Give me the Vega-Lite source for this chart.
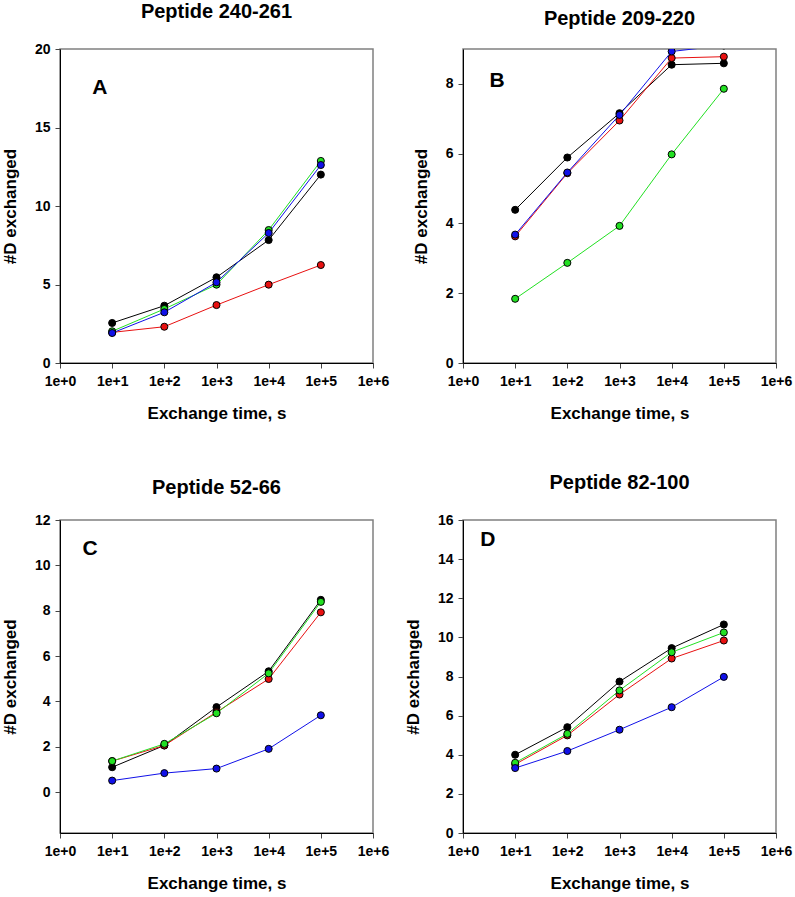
{
  "$schema": "https://vega.github.io/schema/vega-lite/v6.json",
  "background": "white",
  "padding": {"left": 0, "top": 1, "right": 5, "bottom": 5},
  "datasets": {
    "hdx": [
      {"panel": "A", "series": "s1", "t": 10, "d": 2.55},
      {"panel": "A", "series": "s1", "t": 100, "d": 3.65},
      {"panel": "A", "series": "s1", "t": 1000, "d": 5.46},
      {"panel": "A", "series": "s1", "t": 10000, "d": 7.83},
      {"panel": "A", "series": "s1", "t": 100000, "d": 12.0},
      {"panel": "A", "series": "s2", "t": 10, "d": 1.95},
      {"panel": "A", "series": "s2", "t": 100, "d": 2.31},
      {"panel": "A", "series": "s2", "t": 1000, "d": 3.69},
      {"panel": "A", "series": "s2", "t": 10000, "d": 4.99},
      {"panel": "A", "series": "s2", "t": 100000, "d": 6.24},
      {"panel": "A", "series": "s3", "t": 10, "d": 2.02},
      {"panel": "A", "series": "s3", "t": 100, "d": 3.44},
      {"panel": "A", "series": "s3", "t": 1000, "d": 4.99},
      {"panel": "A", "series": "s3", "t": 10000, "d": 8.47},
      {"panel": "A", "series": "s3", "t": 100000, "d": 12.87},
      {"panel": "A", "series": "s4", "t": 10, "d": 1.91},
      {"panel": "A", "series": "s4", "t": 100, "d": 3.23},
      {"panel": "A", "series": "s4", "t": 1000, "d": 5.14},
      {"panel": "A", "series": "s4", "t": 10000, "d": 8.28},
      {"panel": "A", "series": "s4", "t": 100000, "d": 12.61},

      {"panel": "B", "series": "s1", "t": 10, "d": 4.39},
      {"panel": "B", "series": "s1", "t": 100, "d": 5.89},
      {"panel": "B", "series": "s1", "t": 1000, "d": 7.16},
      {"panel": "B", "series": "s1", "t": 10000, "d": 8.55},
      {"panel": "B", "series": "s1", "t": 100000, "d": 8.59},
      {"panel": "B", "series": "s2", "t": 10, "d": 3.63},
      {"panel": "B", "series": "s2", "t": 100, "d": 5.44},
      {"panel": "B", "series": "s2", "t": 1000, "d": 6.95},
      {"panel": "B", "series": "s2", "t": 10000, "d": 8.74},
      {"panel": "B", "series": "s2", "t": 100000, "d": 8.78},
      {"panel": "B", "series": "s3", "t": 10, "d": 1.84},
      {"panel": "B", "series": "s3", "t": 100, "d": 2.87},
      {"panel": "B", "series": "s3", "t": 1000, "d": 3.93},
      {"panel": "B", "series": "s3", "t": 10000, "d": 5.98},
      {"panel": "B", "series": "s3", "t": 100000, "d": 7.86},
      {"panel": "B", "series": "s4", "t": 10, "d": 3.68},
      {"panel": "B", "series": "s4", "t": 100, "d": 5.46},
      {"panel": "B", "series": "s4", "t": 1000, "d": 7.11},
      {"panel": "B", "series": "s4", "t": 10000, "d": 8.93},
      {"panel": "B", "series": "s4", "t": 100000, "d": 9.1},

      {"panel": "C", "series": "s1", "t": 10, "d": 1.1},
      {"panel": "C", "series": "s1", "t": 100, "d": 2.06},
      {"panel": "C", "series": "s1", "t": 1000, "d": 3.75},
      {"panel": "C", "series": "s1", "t": 10000, "d": 5.33},
      {"panel": "C", "series": "s1", "t": 100000, "d": 8.48},
      {"panel": "C", "series": "s2", "t": 10, "d": 1.37},
      {"panel": "C", "series": "s2", "t": 100, "d": 2.06},
      {"panel": "C", "series": "s2", "t": 1000, "d": 3.53},
      {"panel": "C", "series": "s2", "t": 10000, "d": 4.99},
      {"panel": "C", "series": "s2", "t": 100000, "d": 7.93},
      {"panel": "C", "series": "s3", "t": 10, "d": 1.37},
      {"panel": "C", "series": "s3", "t": 100, "d": 2.13},
      {"panel": "C", "series": "s3", "t": 1000, "d": 3.48},
      {"panel": "C", "series": "s3", "t": 10000, "d": 5.24},
      {"panel": "C", "series": "s3", "t": 100000, "d": 8.39},
      {"panel": "C", "series": "s4", "t": 10, "d": 0.51},
      {"panel": "C", "series": "s4", "t": 100, "d": 0.84},
      {"panel": "C", "series": "s4", "t": 1000, "d": 1.04},
      {"panel": "C", "series": "s4", "t": 10000, "d": 1.91},
      {"panel": "C", "series": "s4", "t": 100000, "d": 3.39},

      {"panel": "D", "series": "s1", "t": 10, "d": 4.0},
      {"panel": "D", "series": "s1", "t": 100, "d": 5.41},
      {"panel": "D", "series": "s1", "t": 1000, "d": 7.74},
      {"panel": "D", "series": "s1", "t": 10000, "d": 9.45},
      {"panel": "D", "series": "s1", "t": 100000, "d": 10.66},
      {"panel": "D", "series": "s2", "t": 10, "d": 3.51},
      {"panel": "D", "series": "s2", "t": 100, "d": 4.99},
      {"panel": "D", "series": "s2", "t": 1000, "d": 7.08},
      {"panel": "D", "series": "s2", "t": 10000, "d": 8.92},
      {"panel": "D", "series": "s2", "t": 100000, "d": 9.84},
      {"panel": "D", "series": "s3", "t": 10, "d": 3.59},
      {"panel": "D", "series": "s3", "t": 100, "d": 5.07},
      {"panel": "D", "series": "s3", "t": 1000, "d": 7.29},
      {"panel": "D", "series": "s3", "t": 10000, "d": 9.24},
      {"panel": "D", "series": "s3", "t": 100000, "d": 10.25},
      {"panel": "D", "series": "s4", "t": 10, "d": 3.32},
      {"panel": "D", "series": "s4", "t": 100, "d": 4.19},
      {"panel": "D", "series": "s4", "t": 1000, "d": 5.28},
      {"panel": "D", "series": "s4", "t": 10000, "d": 6.43},
      {"panel": "D", "series": "s4", "t": 100000, "d": 7.98}
    ]
  },
  "config": {
    "font": "Liberation Sans",
    "view": {"stroke": "#808080", "strokeWidth": 1.5},
    "title": {"font": "Liberation Sans", "fontSize": 20, "fontWeight": "bold", "color": "black", "anchor": "middle"},
    "axis": {
      "labelFont": "Liberation Sans", "labelFontSize": 14, "labelFontWeight": "bold", "labelColor": "black",
      "titleFont": "Liberation Sans", "titleFontSize": 17, "titleFontWeight": "bold", "titleColor": "black",
      "domainColor": "black", "domainWidth": 1, "tickColor": "#444444", "tickSize": 5, "tickWidth": 1,
      "grid": false, "labelPadding": 5, "titlePadding": 15, "zindex": 1,
      "labelFlush": false, "labelOverlap": false, "labelBound": false
    },
    "axisX": {"labelPadding": 6, "titlePadding": 17}
  },
  "columns": 2,
  "bounds": "flush",
  "spacing": {"row": 157, "column": 90},
  "concat": [
    {
      "title": {"text": "Peptide 240-261", "offset": 20},
      "width": 313, "height": 314,
      "layer": [
        {"data": {"name": "hdx"},
         "transform": [{"filter": "datum.panel === 'A'"}],
         "mark": {"type": "line", "strokeWidth": 1, "clip": true},
         "encoding": {
           "x": {"field": "t", "type": "quantitative", "scale": {"type": "log", "domain": [1, 1000000]},
                 "axis": {"values": [1, 10, 100, 1000, 10000, 100000, 1000000], "labelExpr": "'1e+' + round(log(datum.value) / LN10)", "title": "Exchange time, s"}},
           "y": {"field": "d", "type": "quantitative", "scale": {"domain": [0, 20], "nice": false, "zero": false},
                 "axis": {"values": [0, 5, 10, 15, 20], "title": "#D exchanged"}},
           "color": {"field": "series", "type": "nominal", "legend": null,
             "scale": {"domain": ["s1", "s2", "s3", "s4"], "range": ["#000000", "#e81010", "#22e022", "#1010e8"]}}}},
        {"data": {"name": "hdx"},
         "transform": [{"filter": "datum.panel === 'A'"}],
         "mark": {"type": "point", "shape": "circle", "filled": true, "size": 50, "stroke": "black", "strokeWidth": 1, "opacity": 1, "clip": true},
         "encoding": {
           "x": {"field": "t", "type": "quantitative", "scale": {"type": "log", "domain": [1, 1000000]},
                 "axis": {"values": [1, 10, 100, 1000, 10000, 100000, 1000000], "labelExpr": "'1e+' + round(log(datum.value) / LN10)", "title": "Exchange time, s"}},
           "y": {"field": "d", "type": "quantitative", "scale": {"domain": [0, 20], "nice": false, "zero": false},
                 "axis": {"values": [0, 5, 10, 15, 20], "title": "#D exchanged"}},
           "fill": {"field": "series", "type": "nominal", "legend": null,
             "scale": {"domain": ["s1", "s2", "s3", "s4"], "range": ["#000000", "#e81010", "#22e022", "#1010e8"]}}}},
        {"data": {"values": [{"label": "A"}]},
         "mark": {"type": "text", "fontSize": 21, "fontWeight": "bold", "align": "center", "baseline": "middle", "color": "black"},
         "encoding": {
           "x": {"datum": 5.8, "type": "quantitative", "axis": {"values": [1, 10, 100, 1000, 10000, 100000, 1000000], "labelExpr": "'1e+' + round(log(datum.value) / LN10)", "title": "Exchange time, s"}},
           "y": {"datum": 17.5, "type": "quantitative", "axis": {"values": [0, 5, 10, 15, 20], "title": "#D exchanged"}},
           "text": {"field": "label"}}}
      ]
    },
    {
      "title": {"text": "Peptide 209-220", "offset": 20},
      "width": 313, "height": 314,
      "layer": [
        {"data": {"name": "hdx"},
         "transform": [{"filter": "datum.panel === 'B'"}],
         "mark": {"type": "line", "strokeWidth": 1, "clip": true},
         "encoding": {
           "x": {"field": "t", "type": "quantitative", "scale": {"type": "log", "domain": [1, 1000000]},
                 "axis": {"values": [1, 10, 100, 1000, 10000, 100000, 1000000], "labelExpr": "'1e+' + round(log(datum.value) / LN10)", "title": "Exchange time, s"}},
           "y": {"field": "d", "type": "quantitative", "scale": {"domain": [0, 9], "nice": false, "zero": false},
                 "axis": {"values": [0, 2, 4, 6, 8], "title": "#D exchanged"}},
           "color": {"field": "series", "type": "nominal", "legend": null,
             "scale": {"domain": ["s1", "s2", "s3", "s4"], "range": ["#000000", "#e81010", "#22e022", "#1010e8"]}}}},
        {"data": {"name": "hdx"},
         "transform": [{"filter": "datum.panel === 'B'"}],
         "mark": {"type": "point", "shape": "circle", "filled": true, "size": 50, "stroke": "black", "strokeWidth": 1, "opacity": 1, "clip": true},
         "encoding": {
           "x": {"field": "t", "type": "quantitative", "scale": {"type": "log", "domain": [1, 1000000]},
                 "axis": {"values": [1, 10, 100, 1000, 10000, 100000, 1000000], "labelExpr": "'1e+' + round(log(datum.value) / LN10)", "title": "Exchange time, s"}},
           "y": {"field": "d", "type": "quantitative", "scale": {"domain": [0, 9], "nice": false, "zero": false},
                 "axis": {"values": [0, 2, 4, 6, 8], "title": "#D exchanged"}},
           "fill": {"field": "series", "type": "nominal", "legend": null,
             "scale": {"domain": ["s1", "s2", "s3", "s4"], "range": ["#000000", "#e81010", "#22e022", "#1010e8"]}}}},
        {"data": {"values": [{"label": "B"}]},
         "mark": {"type": "text", "fontSize": 21, "fontWeight": "bold", "align": "center", "baseline": "middle", "color": "black"},
         "encoding": {
           "x": {"datum": 4.5, "type": "quantitative", "axis": {"values": [1, 10, 100, 1000, 10000, 100000, 1000000], "labelExpr": "'1e+' + round(log(datum.value) / LN10)", "title": "Exchange time, s"}},
           "y": {"datum": 8.07, "type": "quantitative", "axis": {"values": [0, 2, 4, 6, 8], "title": "#D exchanged"}},
           "text": {"field": "label"}}}
      ]
    },
    {
      "title": {"text": "Peptide 52-66", "offset": 15},
      "width": 313, "height": 313,
      "layer": [
        {"data": {"name": "hdx"},
         "transform": [{"filter": "datum.panel === 'C'"}],
         "mark": {"type": "line", "strokeWidth": 1, "clip": true},
         "encoding": {
           "x": {"field": "t", "type": "quantitative", "scale": {"type": "log", "domain": [1, 1000000]},
                 "axis": {"values": [1, 10, 100, 1000, 10000, 100000, 1000000], "labelExpr": "'1e+' + round(log(datum.value) / LN10)", "title": "Exchange time, s"}},
           "y": {"field": "d", "type": "quantitative", "scale": {"domain": [-1.8, 12], "nice": false, "zero": false},
                 "axis": {"values": [0, 2, 4, 6, 8, 10, 12], "title": "#D exchanged"}},
           "color": {"field": "series", "type": "nominal", "legend": null,
             "scale": {"domain": ["s1", "s2", "s3", "s4"], "range": ["#000000", "#e81010", "#22e022", "#1010e8"]}}}},
        {"data": {"name": "hdx"},
         "transform": [{"filter": "datum.panel === 'C'"}],
         "mark": {"type": "point", "shape": "circle", "filled": true, "size": 50, "stroke": "black", "strokeWidth": 1, "opacity": 1, "clip": true},
         "encoding": {
           "x": {"field": "t", "type": "quantitative", "scale": {"type": "log", "domain": [1, 1000000]},
                 "axis": {"values": [1, 10, 100, 1000, 10000, 100000, 1000000], "labelExpr": "'1e+' + round(log(datum.value) / LN10)", "title": "Exchange time, s"}},
           "y": {"field": "d", "type": "quantitative", "scale": {"domain": [-1.8, 12], "nice": false, "zero": false},
                 "axis": {"values": [0, 2, 4, 6, 8, 10, 12], "title": "#D exchanged"}},
           "fill": {"field": "series", "type": "nominal", "legend": null,
             "scale": {"domain": ["s1", "s2", "s3", "s4"], "range": ["#000000", "#e81010", "#22e022", "#1010e8"]}}}},
        {"data": {"values": [{"label": "C"}]},
         "mark": {"type": "text", "fontSize": 21, "fontWeight": "bold", "align": "center", "baseline": "middle", "color": "black"},
         "encoding": {
           "x": {"datum": 3.76, "type": "quantitative", "axis": {"values": [1, 10, 100, 1000, 10000, 100000, 1000000], "labelExpr": "'1e+' + round(log(datum.value) / LN10)", "title": "Exchange time, s"}},
           "y": {"datum": 10.7, "type": "quantitative", "axis": {"values": [0, 2, 4, 6, 8, 10, 12], "title": "#D exchanged"}},
           "text": {"field": "label"}}}
      ]
    },
    {
      "title": {"text": "Peptide 82-100", "offset": 20},
      "width": 313, "height": 313,
      "layer": [
        {"data": {"name": "hdx"},
         "transform": [{"filter": "datum.panel === 'D'"}],
         "mark": {"type": "line", "strokeWidth": 1, "clip": true},
         "encoding": {
           "x": {"field": "t", "type": "quantitative", "scale": {"type": "log", "domain": [1, 1000000]},
                 "axis": {"values": [1, 10, 100, 1000, 10000, 100000, 1000000], "labelExpr": "'1e+' + round(log(datum.value) / LN10)", "title": "Exchange time, s"}},
           "y": {"field": "d", "type": "quantitative", "scale": {"domain": [0, 16], "nice": false, "zero": false},
                 "axis": {"values": [0, 2, 4, 6, 8, 10, 12, 14, 16], "title": "#D exchanged"}},
           "color": {"field": "series", "type": "nominal", "legend": null,
             "scale": {"domain": ["s1", "s2", "s3", "s4"], "range": ["#000000", "#e81010", "#22e022", "#1010e8"]}}}},
        {"data": {"name": "hdx"},
         "transform": [{"filter": "datum.panel === 'D'"}],
         "mark": {"type": "point", "shape": "circle", "filled": true, "size": 50, "stroke": "black", "strokeWidth": 1, "opacity": 1, "clip": true},
         "encoding": {
           "x": {"field": "t", "type": "quantitative", "scale": {"type": "log", "domain": [1, 1000000]},
                 "axis": {"values": [1, 10, 100, 1000, 10000, 100000, 1000000], "labelExpr": "'1e+' + round(log(datum.value) / LN10)", "title": "Exchange time, s"}},
           "y": {"field": "d", "type": "quantitative", "scale": {"domain": [0, 16], "nice": false, "zero": false},
                 "axis": {"values": [0, 2, 4, 6, 8, 10, 12, 14, 16], "title": "#D exchanged"}},
           "fill": {"field": "series", "type": "nominal", "legend": null,
             "scale": {"domain": ["s1", "s2", "s3", "s4"], "range": ["#000000", "#e81010", "#22e022", "#1010e8"]}}}},
        {"data": {"values": [{"label": "D"}]},
         "mark": {"type": "text", "fontSize": 21, "fontWeight": "bold", "align": "center", "baseline": "middle", "color": "black"},
         "encoding": {
           "x": {"datum": 3.0, "type": "quantitative", "axis": {"values": [1, 10, 100, 1000, 10000, 100000, 1000000], "labelExpr": "'1e+' + round(log(datum.value) / LN10)", "title": "Exchange time, s"}},
           "y": {"datum": 14.96, "type": "quantitative", "axis": {"values": [0, 2, 4, 6, 8, 10, 12, 14, 16], "title": "#D exchanged"}},
           "text": {"field": "label"}}}
      ]
    }
  ]
}
